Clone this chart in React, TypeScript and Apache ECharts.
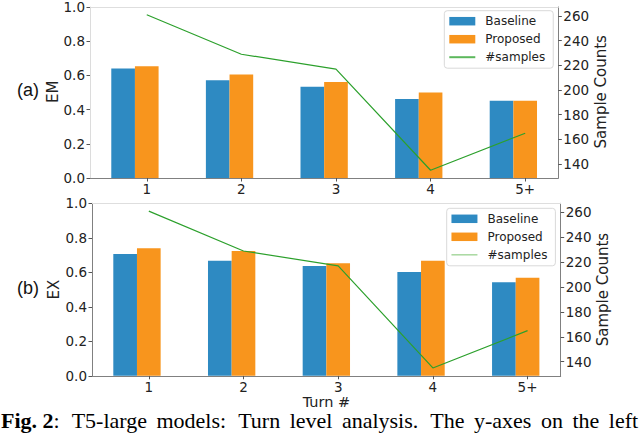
import React, { useEffect, useRef } from "react";
import * as echarts from "echarts";

// turn buckets on the x axis
const turns = ["1", "2", "3", "4", "5+"];
// (a) exact match
const emBaseline = [0.64, 0.572, 0.533, 0.462, 0.452];
const emProposed = [0.653, 0.605, 0.561, 0.5, 0.452];
// (b) execution accuracy
const exBaseline = [0.706, 0.667, 0.637, 0.602, 0.542];
const exProposed = [0.739, 0.723, 0.652, 0.667, 0.569];
// number of samples per turn (right axis)
const sampleCounts = [261, 229, 217, 135, 165];
const scoreTicks = [0, 0.2, 0.4, 0.6, 0.8, 1.0];
const countTicks = [140, 160, 180, 200, 220, 240, 260];

const BLUE = "#2e8ac2";
const ORANGE = "#f8951d";
const GREEN = "#2ca02c";
const FONT = "DejaVu Sans";
const SERIF = "Liberation Serif";

// bar width in x units, like matplotlib width=0.25
const BAR = 0.25;
const xLo = -1.5 * BAR;
const xHi = turns.length - 1 + 0.5 * BAR;
const xMin = xLo - 0.05 * (xHi - xLo);
const xMax = xHi + 0.05 * (xHi - xLo);
const cLo = Math.min(...sampleCounts);
const cHi = Math.max(...sampleCounts);
const cMin = cLo - 0.05 * (cHi - cLo);
const cMax = cHi + 0.05 * (cHi - cLo);

const panels = [
  {
    tag: "(a)", name: "EM", base: emBaseline, prop: emProposed,
    left: 90, right: 558.3, top: 5.5, bottom: 178,
    leftLine: "#dcdcdc", legend: { left: 444.3, top: 10.7 },
    legendLine: { color: "#5cb85c", width: 2 },
  },
  {
    tag: "(b)", name: "EX", base: exBaseline, prop: exProposed,
    left: 92, right: 560.7, top: 203.3, bottom: 375.8,
    leftLine: "#808080", legend: { left: 446.7, top: 208.3 },
    legendLine: { color: "#a8d8a0", width: 1.5 },
  },
];

const tickLabel = { fontSize: 13.5, fontFamily: FONT, color: "#222" };

// caption is justified in the paper, so the spaces are widened
const caption =
  "{b|Fig. 2}{n|:}{w| }{n|T5-large}{s| }{n|models:}{w| }{n|Turn}{s| }{n|level}{s| }" +
  "{n|analysis.}{w| }{n|The}{s| }{n|y-axes}{s| }{n|on}{s| }{n|the}{s| }{n|left}";

const App: React.FC = () => {
  const chartRef = useRef<HTMLDivElement>(null);

  useEffect(() => {
    if (!chartRef.current) return;
    const chart = echarts.init(chartRef.current, undefined, { renderer: "svg" });

    const idx = turns.map((_, i) => i);
    const grid: any[] = [];
    const xAxis: any[] = [];
    const yAxis: any[] = [];
    const series: any[] = [];
    const legend: any[] = [];
    const graphic: any[] = [];

    panels.forEach((p, k) => {
      const w = p.right - p.left;
      const barPx = (BAR * w) / (xMax - xMin);
      grid.push({ left: p.left, top: p.top, width: w, height: p.bottom - p.top });

      // main x axis: orange bars, line, ticks and labels
      xAxis.push({
        type: "value", gridIndex: k, min: xMin, max: xMax, position: "bottom",
        axisLine: { show: true, onZero: false, lineStyle: { color: "#808080", width: 1 } },
        axisTick: { show: true, customValues: idx, length: 3.5, lineStyle: { color: "#555" } },
        axisLabel: {
          customValues: idx, margin: 4, ...tickLabel,
          formatter: (v: number) => turns[Math.round(v)],
        },
        splitLine: { show: false },
      });
      // shifted x axis: blue bars sit one bar width to the left
      xAxis.push({
        type: "value", gridIndex: k, min: xMin + BAR, max: xMax + BAR, position: "top",
        axisLine: { show: true, onZero: false, lineStyle: { color: "#dedede", width: 1 } },
        axisTick: { show: false }, axisLabel: { show: false }, splitLine: { show: false },
      });

      yAxis.push({
        type: "value", gridIndex: k, min: 0, max: 1, interval: 0.2, position: "left",
        axisLine: { show: true, onZero: false, lineStyle: { color: p.leftLine, width: 1 } },
        axisTick: { show: true, length: 3.5, customValues: scoreTicks, lineStyle: { color: "#555" } },
        axisLabel: {
          margin: 5, ...tickLabel, customValues: scoreTicks,
          formatter: (v: number) => v.toFixed(1),
        },
        splitLine: { show: false },
      });
      yAxis.push({
        type: "value", gridIndex: k, min: cMin, max: cMax, position: "right",
        axisLine: { show: true, onZero: false, lineStyle: { color: "#808080", width: 1 } },
        axisTick: { show: true, length: 3.5, customValues: countTicks, lineStyle: { color: "#555" } },
        axisLabel: { margin: 5, ...tickLabel, customValues: countTicks },
        splitLine: { show: false },
      });

      series.push({
        type: "bar", name: "Baseline", xAxisIndex: 2 * k + 1, yAxisIndex: 2 * k,
        data: p.base.map((v, i) => [i, v]), barWidth: barPx,
        itemStyle: { color: BLUE },
      });
      series.push({
        type: "bar", name: "Proposed", xAxisIndex: 2 * k, yAxisIndex: 2 * k,
        data: p.prop.map((v, i) => [i, v]), barWidth: barPx,
        itemStyle: { color: ORANGE },
      });
      series.push({
        type: "line", name: "#samples", xAxisIndex: 2 * k, yAxisIndex: 2 * k + 1,
        data: sampleCounts.map((v, i) => [i, v]), symbol: "none",
        lineStyle: { color: GREEN, width: 1.2 }, itemStyle: { color: GREEN }, z: 5,
      });

      legend.push({
        orient: "vertical", left: p.legend.left, top: p.legend.top,
        itemWidth: 26, itemHeight: 8.5, itemGap: 6, padding: [4.5, 8, 5, 4],
        borderColor: "#d9d9d9", borderWidth: 1, borderRadius: 3,
        backgroundColor: "rgba(255,255,255,0.85)", selectedMode: false,
        textStyle: { fontSize: 12, fontFamily: FONT, color: "#222", padding: [0, 0, 0, 5] },
        data: [
          { name: "Baseline", icon: "rect" },
          { name: "Proposed", icon: "rect" },
          { name: "#samples", lineStyle: p.legendLine, itemStyle: { opacity: 0 } },
        ],
      });

      const midY = (p.top + p.bottom) / 2;
      graphic.push(
        {
          type: "text", x: 28, y: midY - 2,
          style: { text: p.tag, font: '18px "Liberation Sans"', fill: "#111", align: "center", verticalAlign: "middle" },
        },
        {
          type: "text", x: 53 + k * 0.5, y: midY, rotation: Math.PI / 2,
          style: { text: p.name, font: `15px "${FONT}"`, fill: "#222", align: "center", verticalAlign: "middle" },
        },
        {
          type: "text", x: 601 + k * 2, y: midY, rotation: Math.PI / 2,
          style: { text: "Sample Counts", font: `15px "${FONT}"`, fill: "#222", align: "center", verticalAlign: "middle" },
        }
      );
    });

    graphic.push(
      {
        type: "text", x: 326.4, y: 402,
        style: { text: "Turn #", font: `14.5px "${FONT}"`, fill: "#222", align: "center", verticalAlign: "middle" },
      },
      {
        type: "text", x: 1, y: 420,
        style: {
          text: caption,
          verticalAlign: "middle", align: "left",
          rich: {
            b: { fontSize: 22, fontFamily: SERIF, fontWeight: "bold", fill: "#000" },
            n: { fontSize: 22, fontFamily: SERIF, fill: "#000" },
            s: { fontSize: 22, fontFamily: SERIF, width: 9.5 },
            w: { fontSize: 22, fontFamily: SERIF, width: 12 },
          },
        },
      }
    );

    chart.setOption({
      animation: false,
      backgroundColor: "#fff",
      grid, xAxis, yAxis, series, legend, graphic,
    });

    return () => {
      chart.dispose();
    };
  }, []);

  return (
    <div
      ref={chartRef}
      style={{ position: "fixed", left: 0, top: 0, width: "640px", height: "440px" }}
    />
  );
};

export default App;
